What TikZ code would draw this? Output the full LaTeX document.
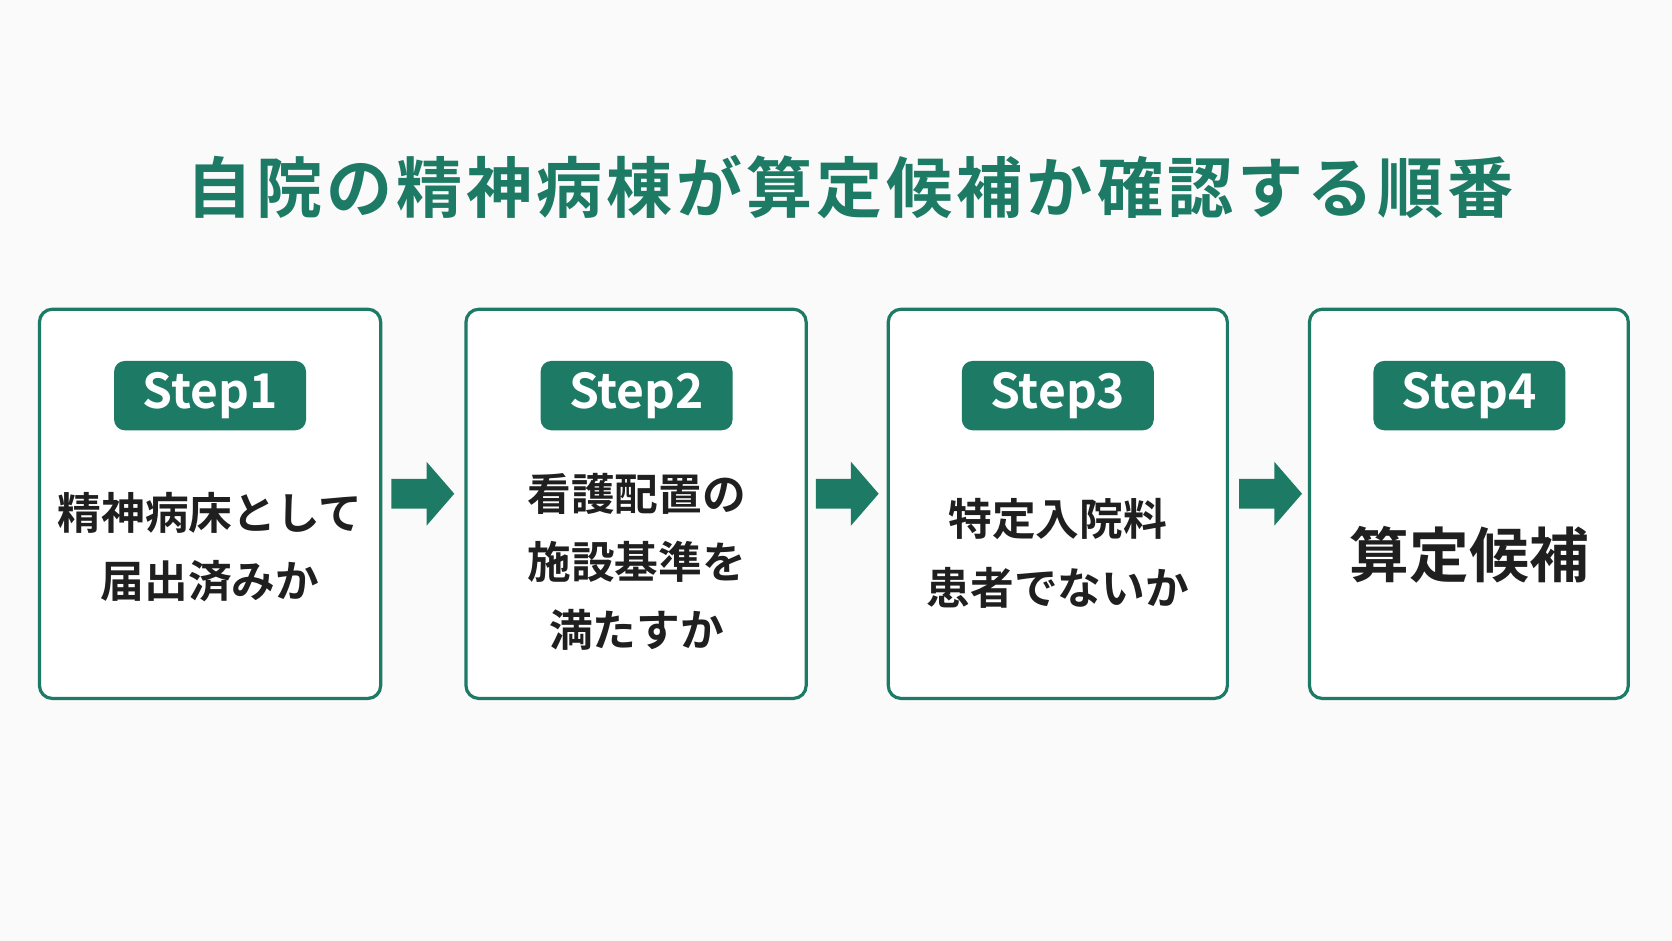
\documentclass[tikz,border=0pt]{standalone}
\usepackage{fontspec}
\newfontfamily\cjkb{Noto Sans CJK JP Bold}
\newfontfamily\cjkt{Noto Sans CJK JP Bold}[LetterSpace=6]
\definecolor{tg}{HTML}{1D7A64}
\definecolor{bg}{HTML}{FAFAFA}
\begin{document}
\begin{tikzpicture}[x=1pt,y=-1pt,
  box/.style={draw=tg,line width=3pt,rounded corners=12pt,fill=white},
  pill/.style={fill=tg,rounded corners=10pt,minimum width=180pt,minimum height=65pt,text=white,font=\cjkb\fontsize{45}{47}\selectfont},
  body/.style={align=center,font=\cjkb\fontsize{41}{64}\selectfont,text=black!88},
  arr/.style={fill=tg}]
\fill[bg] (0,0) rectangle (1568,882);
\useasboundingbox (0,0) rectangle (1568,882);
\node[font=\cjkt\fontsize{62}{66}\selectfont,text=tg] (title) at (797,175) {自院の精神病棟が算定候補か確認する順番};
\draw[box] (37,290) rectangle (357,655);
\draw[box] (437,290) rectangle (756,655);
\draw[box] (833,290) rectangle (1151,655);
\draw[box] (1228,290) rectangle (1527,655);
\node[pill] (s1) at (197,371) {Step1};
\node[pill] (s2) at (597,371) {Step2};
\node[pill] (s3) at (992,371) {Step3};
\node[pill] (s4) at (1378,371) {Step4};
\node[body] (t1) at (197,513) {精神病床として\\届出済みか};
\node[body] (t2) at (597,527) {看護配置の\\施設基準を\\満たすか};
\node[body] (t3) at (992,519) {特定入院料\\患者でないか};
\node[body,font=\cjkb\fontsize{56}{60}\selectfont] (t4) at (1378,520) {算定候補};
\foreach \x in {367,765,1162}{
  \fill[arr] (\x,449) -- (\x+33,449) -- (\x+33,433) -- (\x+59,463) -- (\x+33,493) -- (\x+33,477) -- (\x,477) -- cycle;}
\end{tikzpicture}
\end{document}
